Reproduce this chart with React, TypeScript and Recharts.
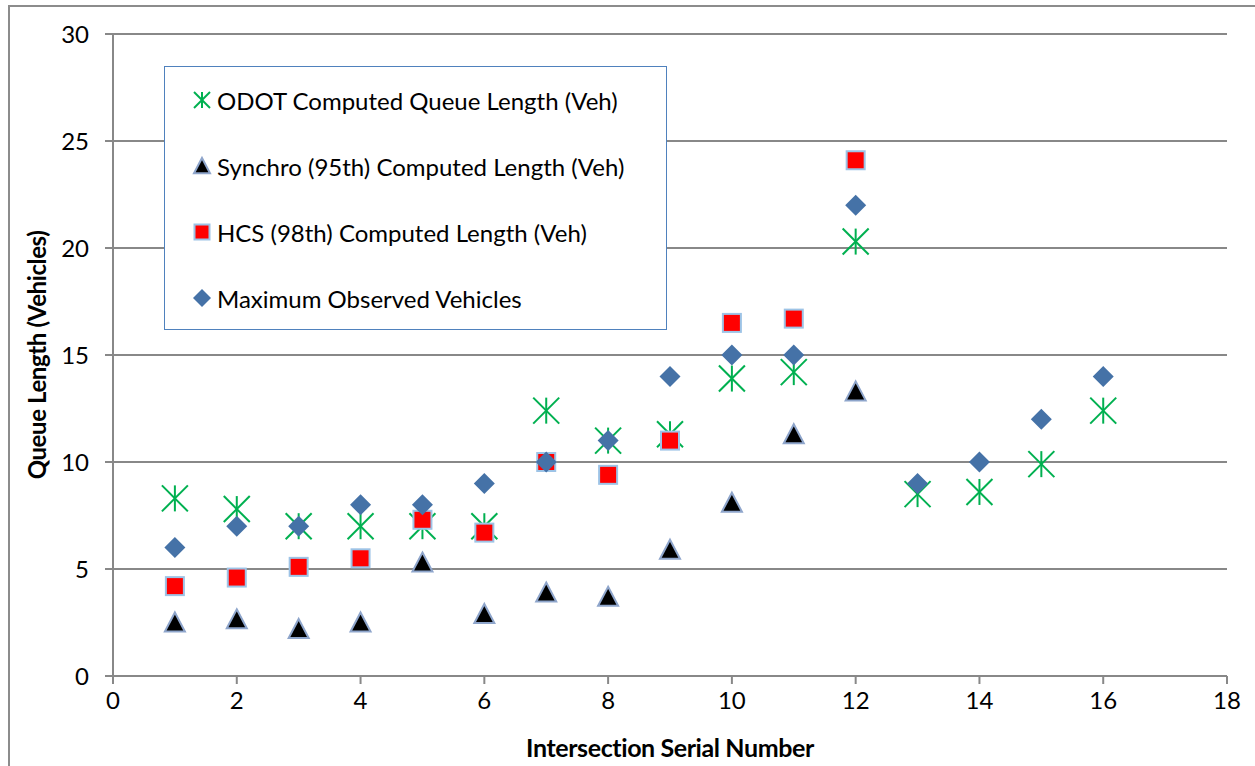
import { ScatterChart, Scatter, XAxis, YAxis, CartesianGrid, Legend } from 'recharts'

const intersections = [1, 2, 3, 4, 5, 6, 7, 8, 9, 10, 11, 12, 13, 14, 15, 16]
const odotQueue = [8.3, 7.8, 7.0, 7.0, 7.0, 7.0, 12.4, 11.0, 11.3, 13.9, 14.2, 20.3, 8.5, 8.6, 9.9, 12.4]
const synchroQueue = [2.5, 2.65, 2.2, 2.5, 5.3, 2.9, 3.9, 3.7, 5.9, 8.1, 11.3, 13.3]
const hcsQueue = [4.2, 4.6, 5.1, 5.5, 7.3, 6.7, 10.0, 9.4, 11.0, 16.5, 16.7, 24.1]
const maxObserved = [6, 7, 7, 8, 8, 9, 10, 11, 14, 15, 15, 22, 9, 10, 12, 14]

const xTicks = [0, 2, 4, 6, 8, 10, 12, 14, 16, 18]
const yTicks = [0, 5, 10, 15, 20, 25, 30]

const toPoints = (vals: number[]) => vals.map((v, i) => ({ x: intersections[i], y: v }))

const GREEN = '#00B050'
const BLUE = '#4572A7'
const GRID = '#888888'
const FONT = 'Lato, "Open Sans", sans-serif'

// marker shapes
const Star = ({ cx, cy, r = 13 }: any) => (
  <g stroke={GREEN} strokeWidth={2}>
    <line x1={cx} y1={cy - r} x2={cx} y2={cy + r} />
    <line x1={cx - r} y1={cy - r} x2={cx + r} y2={cy + r} />
    <line x1={cx - r} y1={cy + r} x2={cx + r} y2={cy - r} />
  </g>
)

const Tri = ({ cx, cy, r = 10 }: any) => (
  <polygon
    points={`${cx},${cy - r} ${cx + r},${cy + r * 0.9} ${cx - r},${cy + r * 0.9}`}
    fill="#000"
    stroke="#8EA5CB"
    strokeWidth={2}
  />
)

const Sq = ({ cx, cy, r = 9 }: any) => (
  <rect x={cx - r} y={cy - r} width={r * 2} height={r * 2} fill="#FF0000" stroke="#9DC3E6" strokeWidth={2} />
)

const Diamond = ({ cx, cy, r = 10.5 }: any) => (
  <polygon points={`${cx},${cy - r} ${cx + r},${cy} ${cx},${cy + r} ${cx - r},${cy}`} fill={BLUE} />
)

const legendItems = [
  { name: 'ODOT Computed Queue Length (Veh)', Icon: Star, r: 8 },
  { name: 'Synchro (95th) Computed Length (Veh)', Icon: Tri, r: 8 },
  { name: 'HCS (98th) Computed Length (Veh)', Icon: Sq, r: 7.5 },
  { name: 'Maximum Observed Vehicles', Icon: Diamond, r: 9 },
]

const LegendBox = () => (
  <div
    style={{
      width: 503,
      height: 264,
      border: '1.5px solid #4F81BD',
      background: '#fff',
      boxSizing: 'border-box',
      paddingTop: 0,
    }}
  >
    {legendItems.map(({ name, Icon, r }) => (
      <div key={name} style={{ display: 'flex', alignItems: 'center', height: 66 }}>
        <svg width={52} height={30} style={{ flex: 'none' }}>
          <Icon cx={37} cy={15} r={r} />
        </svg>
        <span style={{ fontFamily: FONT, fontSize: 24, color: '#000' }}>{name}</span>
      </div>
    ))}
  </div>
)

const YTitle = ({ viewBox }: any) => {
  const cy = viewBox.y + viewBox.height / 2
  return (
    <text
      x={36}
      y={cy}
      transform={`rotate(-90 36 ${cy})`}
      textAnchor="middle"
      dominantBaseline="central"
      fontFamily={FONT}
      fontWeight="bold"
      fontSize={24}
      letterSpacing={-0.4}
      fill="#000"
    >
      Queue Length (Vehicles)
    </text>
  )
}

const XTitle = ({ viewBox }: any) => (
  <text
    x={viewBox.x + viewBox.width / 2}
    y={747}
    textAnchor="middle"
    dominantBaseline="central"
    fontFamily={FONT}
    fontWeight="bold"
    fontSize={25}
    letterSpacing={-0.4}
    fill="#000"
  >
    Intersection Serial Number
  </text>
)

export default function App() {
  return (
    <div style={{ position: 'relative', width: 1255, height: 766, overflow: 'hidden', background: '#fff' }}>
      <style>{'body{margin:0}'}</style>
      <div
        style={{
          position: 'absolute',
          left: 8,
          top: 5,
          width: 1300,
          height: 900,
          borderLeft: '2px solid #8c8c8c',
          borderTop: '2px solid #8c8c8c',
        }}
      />
      <div style={{ position: 'absolute', left: 0, top: 0 }}>
        <ScatterChart width={1255} height={766} margin={{ top: 34, right: 28, bottom: 0, left: 0 }}>
          <CartesianGrid vertical={false} stroke={GRID} strokeWidth={2} />
          <XAxis
            type="number"
            dataKey="x"
            domain={[0, 18]}
            ticks={xTicks}
            height={90}
            tickSize={8}
            tickMargin={8}
            stroke={GRID}
            strokeWidth={2}
            tick={{ fill: '#000', fontSize: 24, fontFamily: FONT }}
            label={<XTitle />}
          />
          <YAxis
            type="number"
            dataKey="y"
            domain={[0, 30]}
            ticks={yTicks}
            width={113}
            tickSize={8}
            tickMargin={16}
            stroke={GRID}
            strokeWidth={2}
            tick={{ fill: '#000', fontSize: 24, fontFamily: FONT }}
            label={<YTitle />}
          />
          <Legend
            layout="vertical"
            align="center"
            verticalAlign="middle"
            wrapperStyle={{ left: 164, top: 66, width: 'auto' }}
            content={() => <LegendBox />}
          />
          <Scatter name="ODOT Computed Queue Length (Veh)" data={toPoints(odotQueue)} shape={<Star />} isAnimationActive={false} />
          <Scatter name="Synchro (95th) Computed Length (Veh)" data={toPoints(synchroQueue)} shape={<Tri />} isAnimationActive={false} />
          <Scatter name="HCS (98th) Computed Length (Veh)" data={toPoints(hcsQueue)} shape={<Sq />} isAnimationActive={false} />
          <Scatter name="Maximum Observed Vehicles" data={toPoints(maxObserved)} shape={<Diamond />} isAnimationActive={false} />
        </ScatterChart>
      </div>
    </div>
  )
}
